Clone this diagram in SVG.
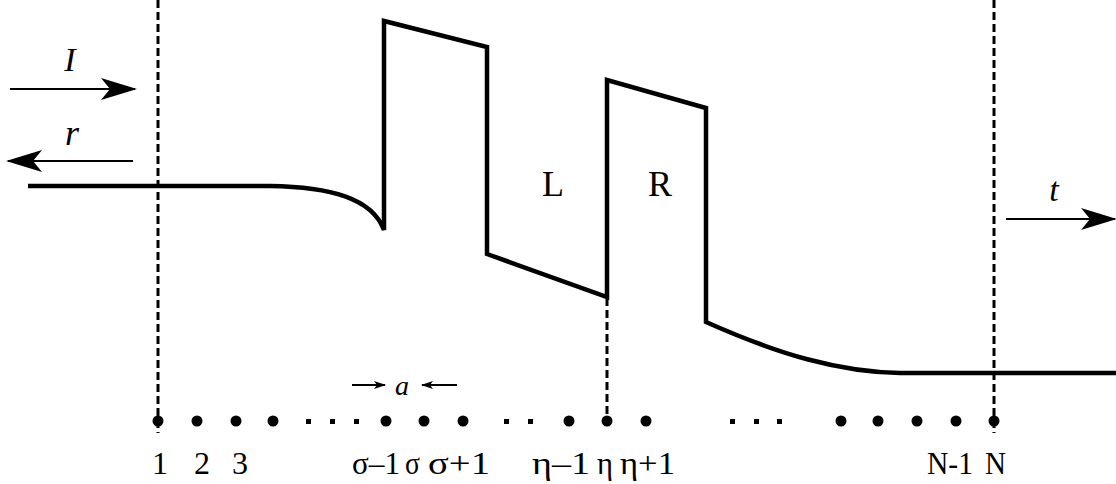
<svg xmlns="http://www.w3.org/2000/svg" width="1116" height="484" viewBox="0 0 1116 484">
<style>
.t{font-family:"Liberation Serif","Times New Roman",serif;fill:#000}
.dash{stroke:#000;stroke-width:3;stroke-dasharray:8,4;fill:none}
.arr{stroke:#000;stroke-width:2;fill:none}
.pot{stroke:#000;stroke-width:4.5;fill:none;stroke-linejoin:miter}
</style>
<defs>
<marker id="head" viewBox="0 0 36 22" refX="34" refY="11" markerWidth="36" markerHeight="22" markerUnits="userSpaceOnUse" orient="auto">
<path d="M0,0 L36,11 L0,22 L9,11 Z" fill="#000"/>
</marker>
<marker id="small" viewBox="0 0 12 8" refX="11" refY="4" markerWidth="12" markerHeight="8" markerUnits="userSpaceOnUse" orient="auto">
<path d="M0,0 L12,4 L0,8 L3,4 Z" fill="#000"/>
</marker>
</defs>
<rect width="1116" height="484" fill="#fff"/>
<g id="guides">
<line class="dash" x1="158" y1="0" x2="158" y2="433"/>
<line class="dash" x1="607" y1="298" x2="607" y2="420"/>
<line class="dash" x1="994" y1="0" x2="994" y2="433"/>
</g>
<g id="potential">
<path class="pot" d="M28,186 L270,186 C330,187 372,198 384,230 L384,21 L487,47 L487,254 L607,297 L607,80 L706,108 L706,322 C780,355 840,372 900,373 L1116,373"/>
<text class="t" x="553" y="196" font-size="36" text-anchor="middle">L</text>
<text class="t" x="660" y="196" font-size="36" text-anchor="middle">R</text>
</g>
<g id="connectors">
<line class="arr" x1="10" y1="89" x2="135" y2="89" marker-end="url(#head)"/>
<line class="arr" x1="133" y1="161" x2="8" y2="161" marker-end="url(#head)"/>
<line class="arr" x1="1006" y1="219" x2="1115" y2="219" marker-end="url(#head)"/>
<line class="arr" x1="352" y1="385" x2="385" y2="385" stroke-width="1.5" marker-end="url(#small)"/>
<line class="arr" x1="457" y1="385" x2="422" y2="385" stroke-width="1.5" marker-end="url(#small)"/>
</g>
<g id="labels">
<text class="t" x="70" y="71" font-size="34" font-style="italic" text-anchor="middle">I</text>
<text class="t" x="72" y="145" font-size="36" font-style="italic" text-anchor="middle">r</text>
<text class="t" x="1054" y="201" font-size="34" font-style="italic" text-anchor="middle">t</text>
<text class="t" x="402" y="395" font-size="28" font-style="italic" text-anchor="middle">a</text>
</g>
<g id="lattice">
<g fill="#000">
<circle cx="158" cy="421" r="5.5"/>
<circle cx="197" cy="421" r="5.5"/>
<circle cx="236" cy="421" r="5.5"/>
<circle cx="273" cy="421" r="5.5"/>
<rect x="306" y="419" width="5" height="5"/>
<rect x="330" y="419" width="5" height="5"/>
<rect x="354" y="419" width="5" height="5"/>
<circle cx="386" cy="421" r="5.5"/>
<circle cx="424" cy="421" r="5.5"/>
<circle cx="463" cy="421" r="5.5"/>
<rect x="504" y="419" width="5" height="5"/>
<rect x="528" y="419" width="5" height="5"/>
<circle cx="569" cy="421" r="5.5"/>
<circle cx="607" cy="421" r="5.5"/>
<circle cx="646" cy="421" r="5.5"/>
<rect x="730" y="419" width="5" height="5"/>
<rect x="754" y="419" width="5" height="5"/>
<rect x="777" y="419" width="5" height="5"/>
<circle cx="841" cy="421" r="5.5"/>
<circle cx="878" cy="421" r="5.5"/>
<circle cx="917" cy="421" r="5.5"/>
<circle cx="956" cy="421" r="5.5"/>
<circle cx="994" cy="421" r="5.5"/>
</g>
<g font-size="32">
<text class="t" x="160" y="474" text-anchor="middle">1</text>
<text class="t" x="202" y="474" text-anchor="middle">2</text>
<text class="t" x="240" y="474" text-anchor="middle">3</text>
<text class="t" x="352" y="474" textLength="48" lengthAdjust="spacingAndGlyphs">σ–1</text>
<text class="t" x="405" y="474" textLength="15" lengthAdjust="spacingAndGlyphs">σ</text>
<text class="t" x="428" y="474" textLength="62" lengthAdjust="spacingAndGlyphs">σ+1</text>
<text class="t" x="532" y="474" textLength="58" lengthAdjust="spacingAndGlyphs">η–1</text>
<text class="t" x="597" y="474" textLength="16" lengthAdjust="spacingAndGlyphs">η</text>
<text class="t" x="620" y="474" textLength="55" lengthAdjust="spacingAndGlyphs">η+1</text>
<text class="t" x="927" y="474" textLength="46" lengthAdjust="spacingAndGlyphs">N-1</text>
<text class="t" x="985" y="474" textLength="21" lengthAdjust="spacingAndGlyphs">N</text>
</g>
</g>
</svg>
